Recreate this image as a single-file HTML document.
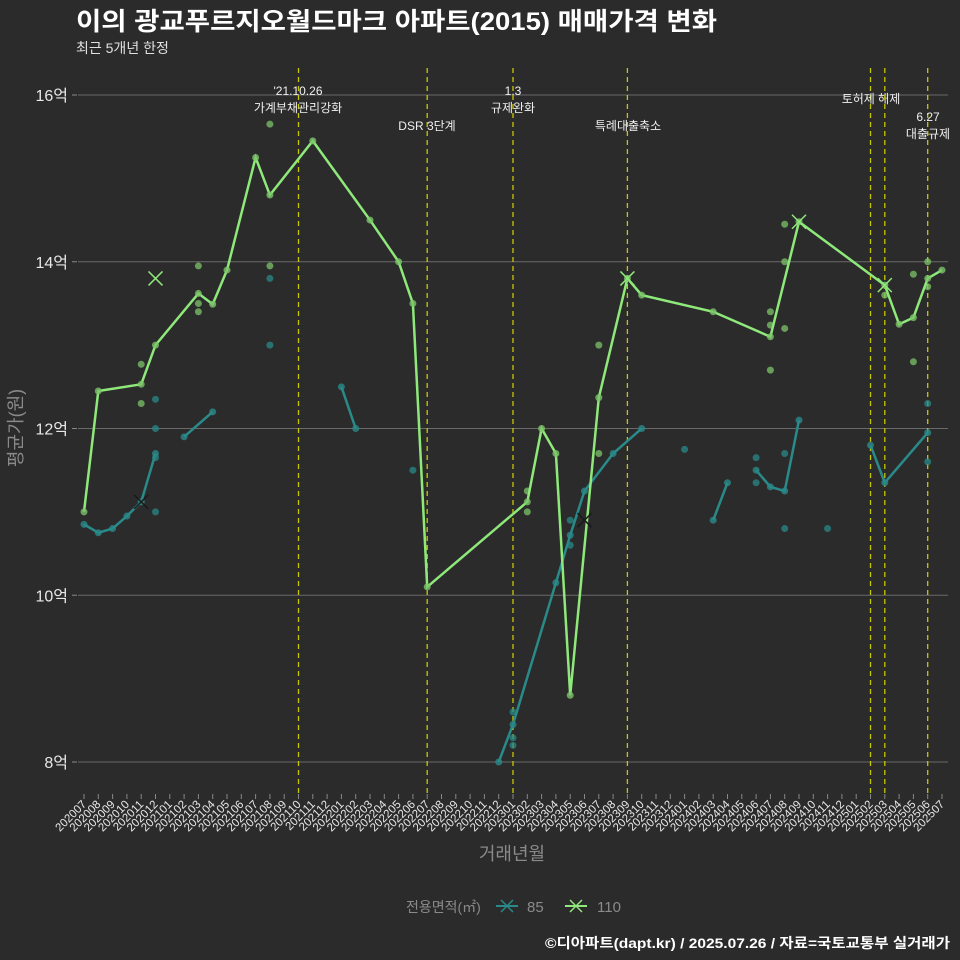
<!DOCTYPE html>
<html><head><meta charset="utf-8">
<style>
html,body{margin:0;padding:0;background:#2b2b2b;}
svg{display:block;font-family:"Liberation Sans","Noto Sans CJK KR",sans-serif;}
</style></head>
<body>
<svg id="chart" width="960" height="960" viewBox="0 0 960 960">
<rect width="960" height="960" fill="#2b2b2b"/>
<text x="76" y="30" fill="#ffffff" font-size="25" font-weight="bold" textLength="641" lengthAdjust="spacingAndGlyphs">이의 광교푸르지오월드마크 아파트(2015) 매매가격 변화</text>
<text x="76" y="53" fill="#e0e0e0" font-size="14">최근 5개년 한정</text>
<g id="grid"></g>
<g id="events"></g>
<g id="series"></g>
<g id="xaxis"></g>
<text x="22" y="428" fill="#8a8a8a" font-size="18" text-anchor="middle" transform="rotate(-90 22 428)">평균가(원)</text>
<text x="512" y="860" fill="#8a8a8a" font-size="18" text-anchor="middle">거래년월</text>
<g>
<text x="406" y="912" fill="#8a8a8a" font-size="14">전용면적(㎡)</text>
<g>
<line x1="496" y1="906" x2="518" y2="906" stroke="#2a8a8a" stroke-width="2"/>
<path d="M501 900 L513 912 M513 900 L501 912" stroke="#2a8a8a" stroke-width="1.5"/>
<text x="527" y="912" fill="#8a8a8a" font-size="15">85</text></g>
<g>
<line x1="565" y1="906" x2="587" y2="906" stroke="#8ee87a" stroke-width="2"/>
<path d="M570 900 L582 912 M582 900 L570 912" stroke="#8ee87a" stroke-width="1.5"/>
<text x="597" y="912" fill="#8a8a8a" font-size="15">110</text></g>
</g>
<text x="950" y="948" fill="#ffffff" font-size="14" font-weight="bold" text-anchor="end" textLength="405" lengthAdjust="spacingAndGlyphs">©디아파트(dapt.kr) / 2025.07.26 / 자료=국토교통부 실거래가</text>
</svg>
<script>
const months=[];
for(let y=2020,m=7;!(y===2025&&m===8);){months.push(''+y+(m<10?'0':'')+m);m++;if(m>12){m=1;y++;}}
const yTicks=[8,10,12,14,16];
const yTickLabels=['8억','10억','12억','14억','16억'];
const line110Idx=[0,1,4,5,8,9,10,12,13,16,20,22,23,24,31,32,33,34,36,38,39,44,48,50,56,57,58,59,60];
const line110Val=[11.0,12.45,12.53,13.0,13.62,13.49,13.9,15.25,14.8,15.45,14.5,14.0,13.5,10.1,11.12,12.0,11.7,8.8,12.37,13.8,13.6,13.4,13.1,14.48,13.72,13.25,13.33,13.8,13.9];
const line85Seg=[[[0,10.85],[1,10.75],[2,10.8],[3,10.95],[4,11.12],[5,11.7]],[[7,11.9],[9,12.2]],[[18,12.5],[19,12.0]],[[29,8.0],[30,8.45],[33,10.15],[34,10.72],[35,11.25],[37,11.7],[39,12.0]],[[44,10.9],[45,11.35]],[[47,11.5],[48,11.3],[49,11.25],[50,12.1]],[[55,11.8],[56,11.35],[59,11.95]]];
const dots110Idx=[4,4,8,8,8,13,13,31,31,36,36,49,49,48,48,49,48,56,58,58,59,59];
const dots110Val=[12.77,12.3,13.95,13.5,13.4,15.65,13.95,11.25,11.0,11.7,13.0,14.45,14.0,13.4,13.24,13.2,12.7,13.6,13.85,12.8,14.0,13.7];
const dots85Idx=[5,5,5,5,13,13,23,30,30,30,34,34,42,47,47,49,49,52,59,59];
const dots85Val=[12.35,12.0,11.65,11.0,13.8,13.0,11.5,8.6,8.29,8.2,10.9,10.6,11.75,11.65,11.35,11.7,10.8,10.8,12.3,11.6];
const max110Idx=[5,38,50,56], max110Val=[13.8,13.8,14.48,13.72];
const max85Idx=[4,35], max85Val=[11.12,10.9];
const eventIdx=[15,24,30,38,55,56,59];
const eventLines=[["'21.10.26","가계부채관리강화"],["DSR 3단계"],["1.3","규제완화"],["특례대출축소"],["토허제 해제"],[],["6.27","대출규제"]];
const eventLabelX=[298,427,513,628,871,871,928];
const eventLabelY=[95,130,95,130,103,103,121];

const X=i=>84+i*14.3;
const Y=v=>762-(v-8)*83.375;
const NS='http://www.w3.org/2000/svg';
function mk(tag,attrs,parent){const e=document.createElementNS(NS,tag);for(const k in attrs)e.setAttribute(k,attrs[k]);parent.appendChild(e);return e;}
const G=id=>document.getElementById(id);
const GREEN='#8ee87a',TEAL='#2a8a8a';

yTicks.forEach((v,k)=>{
 const l=mk('line',{x1:78,x2:948,y1:Y(v),y2:Y(v),stroke:'#6a6a6a','stroke-width':1},G('grid'));
 
 
 const tk=mk('line',{x1:72,x2:77,y1:Y(v),y2:Y(v),stroke:'#888'},G('grid'));
 
 
 const t=mk('text',{x:68,y:Y(v)+6,fill:'#e8e8e8','font-size':16,'text-anchor':'end'},G('grid'));
 t.textContent=yTickLabels[k];
 
 
});
months.forEach((m,i)=>{
 const tk=mk('line',{x1:X(i),x2:X(i),y1:794,y2:799,stroke:'#888'},G('xaxis'));
 
 
 const t=mk('text',{x:X(i)+3,y:805,fill:'#e8e8e8','font-size':11.5,'text-anchor':'end',transform:`rotate(-45 ${X(i)+3} 805)`},G('xaxis'));
 t.textContent=m;
 
 
});
eventIdx.forEach((ix,k)=>{
 const l=mk('line',{x1:X(ix),x2:X(ix),y1:68,y2:797,stroke:'#c8c800','stroke-width':1.3,'stroke-dasharray':'5,4'},G('events'));
 
 
 eventLines[k].forEach((s,j)=>{
  const t=mk('text',{x:eventLabelX[k],y:eventLabelY[k]+j*17,fill:'#f0f0f0','font-size':12,'text-anchor':'middle'},G('events'));
  t.textContent=s;
  
  
 });
});
const S=G('series');
dots85Idx.forEach((ix,k)=>{
 const c=mk('circle',{cx:X(ix),cy:Y(dots85Val[k]),r:3.5,fill:TEAL,'fill-opacity':0.75},S);
 
 
});
dots110Idx.forEach((ix,k)=>{
 const c=mk('circle',{cx:X(ix),cy:Y(dots110Val[k]),r:3.5,fill:'#7cc46a','fill-opacity':0.75},S);
 
 
});
line85Seg.forEach(seg=>{
 const p=mk('polyline',{points:seg.map(q=>X(q[0])+','+Y(q[1])).join(' '),fill:'none',stroke:TEAL,'stroke-width':2.5},S);
 
 
 seg.forEach(q=>{const c=mk('circle',{cx:X(q[0]),cy:Y(q[1]),r:3.5,fill:TEAL,'fill-opacity':0.8},S);
  
  });
});
const p110=mk('polyline',{points:line110Idx.map((ix,k)=>X(ix)+','+Y(line110Val[k])).join(' '),fill:'none',stroke:GREEN,'stroke-width':2.5},S);


line110Idx.forEach((ix,k)=>{const c=mk('circle',{cx:X(ix),cy:Y(line110Val[k]),r:3.5,fill:'#7cc46a','fill-opacity':0.8},S);
 
 });
function cross(x,y,col,name){
 const p=mk('path',{d:`M${x-7} ${y-7}L${x+7} ${y+7}M${x+7} ${y-7}L${x-7} ${y+7}`,stroke:col,'stroke-width':1.5},S);
 
 
}
max85Idx.forEach((ix,k)=>cross(X(ix),Y(max85Val[k]),'#1a1a1a','max-marker-85'));
max110Idx.forEach((ix,k)=>cross(X(ix),Y(max110Val[k]),GREEN,'max-marker-110'));
</script>
</body></html>
